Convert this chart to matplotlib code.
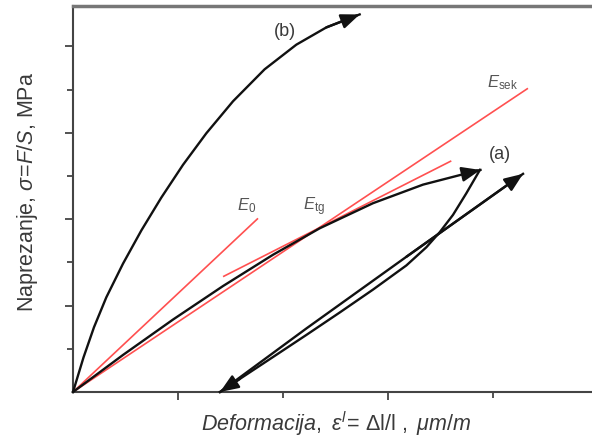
import matplotlib
matplotlib.use("Agg")
import matplotlib.pyplot as plt
from matplotlib.ticker import FixedLocator

plt.rcParams['font.family'] = ['Liberation Sans', 'DejaVu Sans']
plt.rcParams['mathtext.fontset'] = 'custom'
plt.rcParams['mathtext.rm'] = 'Liberation Sans'
plt.rcParams['mathtext.it'] = 'Liberation Sans:italic'
plt.rcParams['mathtext.bf'] = 'Liberation Sans:bold'

# ---- data (arbitrary units) ----
# curve (b): stiff material, loading only
b_x = [0, 0.1, 0.2, 0.317, 0.476, 0.651, 0.841, 1.048, 1.270, 1.524, 1.825, 2.127, 2.413, 2.730]
b_y = [0, 0.80, 1.50, 2.19, 2.97, 3.74, 4.50, 5.26, 5.99, 6.73, 7.47, 8.04, 8.44, 8.74]

# curve (a): loading branch
a_x = [0, 0.476, 0.952, 1.429, 1.905, 2.35, 2.857, 3.333, 3.81, 3.88]
a_y = [0, 0.857, 1.676, 2.453, 3.177, 3.79, 4.37, 4.80, 5.10, 5.14]

# curve (a): unloading branch
u_x = [3.875, 3.746, 3.619, 3.493, 3.365, 3.175, 2.857, 2.540, 2.222, 1.905, 1.587, 1.40]
u_y = [5.14, 4.60, 4.10, 3.70, 3.35, 2.93, 2.37, 1.84, 1.32, 0.81, 0.30, 0.0]

# curve (a): reloading branch
r_x = [1.40, 2.222, 3.175, 4.286]
r_y = [0.0, 1.47, 3.13, 5.05]

# modulus lines
e0_x = [0, 1.762]
e0_y = [0, 4.02]
etg_x = [1.429, 3.603]
etg_y = [2.67, 5.35]
esek_x = [0, 4.333]
esek_y = [0, 7.03]

xmajor = [1, 3]
xminor = [2, 4]
ymajor = [2, 4, 6, 8]
yminor = [1, 3, 5, 7]

W, H = 592, 441
fig = plt.figure(figsize=(W / 100, H / 100), dpi=100)
ax = fig.add_axes([73 / W, 1 - 392 / H, (W - 73) / W, (392 - 6) / H])
ax.set_xlim(0, 519 / 105)
ax.set_ylim(0, 386 / 43.2)

red = '#ff5050'
for xs, ys in [(e0_x, e0_y), (etg_x, etg_y), (esek_x, esek_y)]:
    ax.plot(xs, ys, color=red, lw=1.2, solid_capstyle='butt', clip_on=False, zorder=2)

black = '#111111'
for xs, ys in [(b_x, b_y), (a_x, a_y), (u_x, u_y), (r_x, r_y)]:
    ax.plot(xs, ys, color=black, lw=1.7, clip_on=False, zorder=3,
            solid_joinstyle='round')
    ax.annotate('', xy=(xs[-1], ys[-1]), xytext=(xs[-2], ys[-2]),
                arrowprops=dict(arrowstyle='-|>,head_length=0.8,head_width=0.32',
                                color=black, lw=1.7, shrinkA=0, shrinkB=0,
                                mutation_scale=14),
                annotation_clip=False, zorder=4)

txt = '#3a3a3a'
ax.text(2.016, 8.34, '(b)', fontsize=13, color=txt, ha='center', va='center')
ax.text(4.063, 5.49, '(a)', fontsize=13, color=txt, ha='center', va='center')
ax.text(1.562, 4.21, r'$E_{\mathrm{0}}$', fontsize=12, color='#555555', ha='left', va='baseline')
ax.text(2.19, 4.21, r'$E_{\mathrm{tg}}$', fontsize=12, color='#555555', ha='left', va='baseline')
ax.text(3.943, 7.06, r'$E_{\mathrm{sek}}$', fontsize=12, color='#555555', ha='left', va='baseline')

# spines and ticks
ax.spines['right'].set_visible(False)
ax.spines['left'].set_color('#444444')
ax.spines['left'].set_linewidth(1.5)
ax.spines['bottom'].set_color('#444444')
ax.spines['bottom'].set_linewidth(1.5)
ax.spines['top'].set_color('#777777')
ax.spines['top'].set_linewidth(2.5)

ax.xaxis.set_major_locator(FixedLocator(xmajor))
ax.xaxis.set_minor_locator(FixedLocator(xminor))
ax.yaxis.set_major_locator(FixedLocator(ymajor))
ax.yaxis.set_minor_locator(FixedLocator(yminor))
ax.tick_params(which='both', direction='out', color='#444444', width=1.3,
               labelbottom=False, labelleft=False, top=False, right=False)
ax.tick_params(which='major', length=6)
ax.tick_params(which='minor', length=4)

fig.text(336 / W, 1 - 431.5 / H,
         r'$\mathit{Deformacija},\ \varepsilon^{\mathit{l}}\!=\,\mathrm{\Delta l/l}\ ,\ \mu m/m$',
         fontsize=15.5, color=txt, ha='center', va='baseline')
fig.text(33.3 / W, 1 - 191.5 / H, r'Naprezanje, $\sigma\!=\!F/S$, MPa',
         fontsize=15.5, color=txt, ha='center', va='baseline', rotation=90,
         rotation_mode='anchor')

fig.savefig('out.png', dpi=100)
